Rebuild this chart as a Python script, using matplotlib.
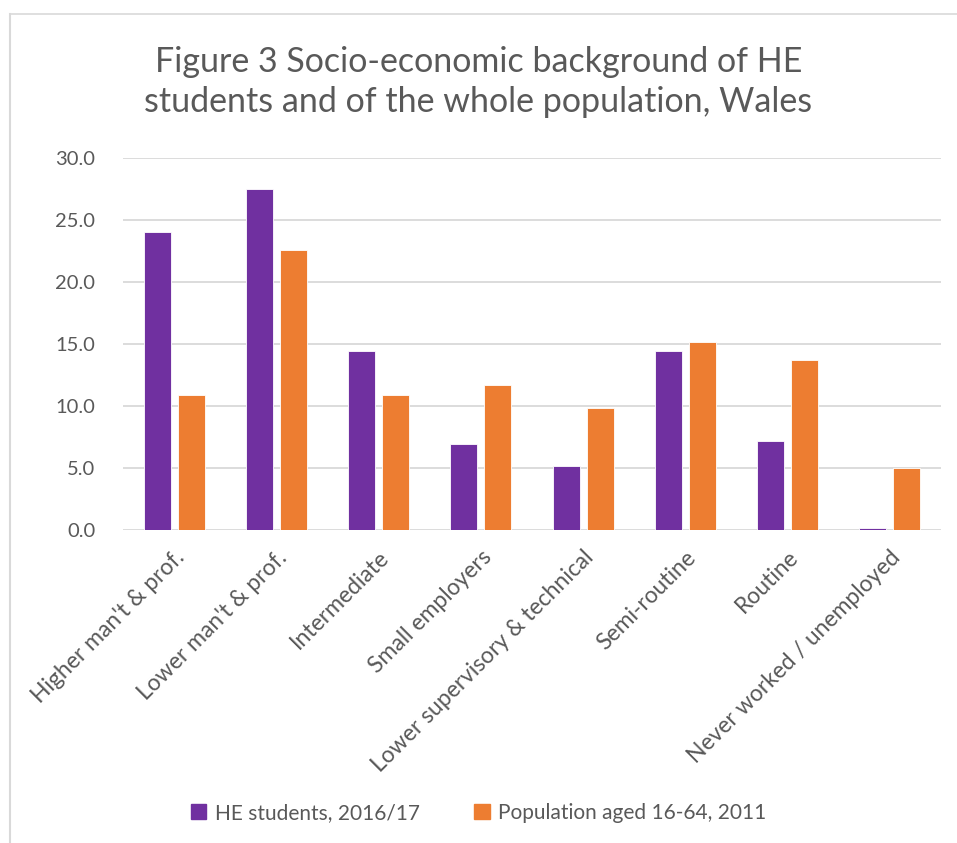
import matplotlib.pyplot as plt
import numpy as np
from matplotlib.lines import Line2D
from matplotlib.patches import Patch

categories = ["Higher man't & prof.", "Lower man't & prof.", "Intermediate",
              "Small employers", "Lower supervisory & technical", "Semi-routine",
              "Routine", "Never worked / unemployed"]
he_students = [24.0, 27.5, 14.4, 6.9, 5.2, 14.4, 7.2, 0.2]
population = [10.9, 22.6, 10.9, 11.7, 9.8, 15.2, 13.7, 5.0]
series_names = ["HE students, 2016/17", "Population aged 16-64, 2011"]

purple = '#7030A0'
orange = '#ED7D31'
txt = '#595959'
grid = '#D9D9D9'

plt.rcParams['font.family'] = ['Lato', 'DejaVu Sans']

W, H = 957, 843
fig = plt.figure(figsize=(W / 100, H / 100), dpi=100)
ax = fig.add_axes([123 / W, 1 - 530 / H, (941 - 123) / W, (530 - 158) / H])

x = np.arange(len(categories))
bw = 0.265
ax.bar(x - 0.167, he_students, bw, color=purple, edgecolor='white', linewidth=0.6, zorder=3)
ax.bar(x + 0.167, population, bw, color=orange, edgecolor='white', linewidth=0.6, zorder=3)

ax.set_xlim(-0.5, len(categories) - 0.5)
ax.set_ylim(0, 30)
ax.set_yticks(np.arange(0, 31, 5))
ax.set_yticklabels(['%.1f' % v for v in np.arange(0, 31, 5)])
ax.yaxis.grid(True, color=grid, linewidth=1.3, zorder=0)
ax.set_axisbelow(True)
for s in ax.spines.values():
    s.set_visible(False)
ax.tick_params(axis='y', length=0, labelsize=14.5, colors=txt, pad=20)
ax.set_xticks(x)
ax.set_xticklabels(categories, rotation=45, ha='right', rotation_mode='anchor')
ax.tick_params(axis='x', length=0, labelsize=16.5, colors=txt, pad=12)

fig.text(0.5, 1 - 82 / H, "Figure 3 Socio-economic background of HE\nstudents and of the whole population, Wales",
         ha='center', va='center', fontsize=24.5, color=txt, linespacing=1.3)

handles = [Patch(color=purple), Patch(color=orange)]
fig.legend(handles, series_names, loc='center', bbox_to_anchor=(0.5, 1 - 813 / H),
           ncol=2, frameon=False, fontsize=15, labelcolor=txt, handlelength=0.75,
           handleheight=0.75, handletextpad=0.4, columnspacing=2.6)

# chart frame (cropped)
fig.add_artist(Line2D([10 / W, 10 / W], [0, 1 - 14 / H], transform=fig.transFigure, color=grid, linewidth=1.5))
fig.add_artist(Line2D([10 / W, 1], [1 - 14 / H, 1 - 14 / H], transform=fig.transFigure, color=grid, linewidth=1.2))

fig.savefig('out.png', dpi=100, facecolor='white')
